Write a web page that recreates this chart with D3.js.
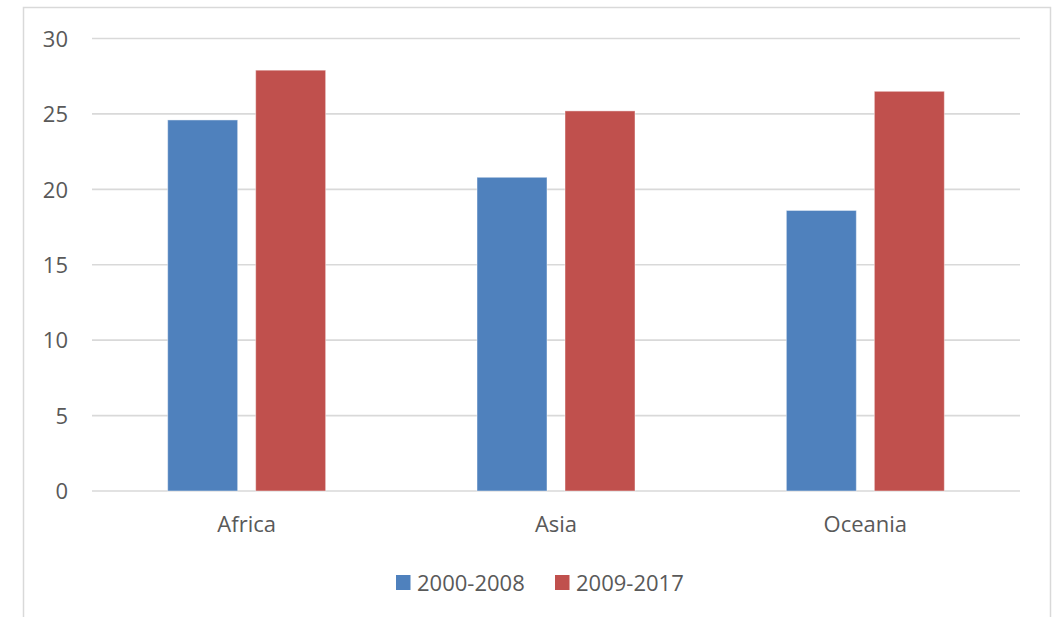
<!DOCTYPE html>
<html>
<head>
<meta charset="utf-8">
<script src="https://cdn.jsdelivr.net/npm/d3@7"></script>
<style>
  html, body { margin: 0; padding: 0; background: #fff; }
  svg { display: block; }
  text { font-family: "Open Sans", "Noto Sans", sans-serif; fill: #595959; }
</style>
</head>
<body>
<svg id="chart" width="1056" height="617"></svg>
<script>
// Chart data
const categories = ["Africa", "Asia", "Oceania"];
const seriesNames = ["2000-2008", "2009-2017"];
const values2000_2008 = [24.6, 20.8, 18.6];
const values2009_2017 = [27.9, 25.2, 26.5];
const yTicks = [0, 5, 10, 15, 20, 25, 30];
const colors = ["#4F81BD", "#C0504D"];

const seriesValues = [values2000_2008, values2009_2017];
const rows = categories.map((c, i) => ({
  category: c,
  values: seriesNames.map((s, j) => ({ series: s, value: seriesValues[j][i], color: colors[j] }))
}));

const svg = d3.select("#chart");
const plot = { left: 92, right: 1020, top: 38.5, bottom: 491 };

// Outer chart frame
svg.append("rect")
  .attr("x", 23.5).attr("y", 7.5)
  .attr("width", 1027).attr("height", 640)
  .attr("fill", "#fff")
  .attr("stroke", "#d9d9d9")
  .attr("stroke-width", 1.5);

const y = d3.scaleLinear().domain([0, 30]).range([plot.bottom, plot.top]);
const x0 = d3.scaleBand().domain(categories).range([plot.left, plot.right]).paddingInner(0).paddingOuter(0);
const x1 = d3.scaleBand().domain(seriesNames).range([0, x0.bandwidth()])
  .paddingInner(18 / 88).paddingOuter(0.86);

// Horizontal gridlines
svg.append("g")
  .selectAll("line")
  .data(yTicks)
  .join("line")
  .attr("x1", plot.left).attr("x2", plot.right)
  .attr("y1", d => y(d)).attr("y2", d => y(d))
  .attr("stroke", "#d9d9d9")
  .attr("stroke-width", 1.6);

// Y axis labels
const yAxis = d3.axisLeft(y).tickValues(yTicks).tickSize(0).tickPadding(0);
const gy = svg.append("g").attr("transform", "translate(68,0)").call(yAxis);
gy.select(".domain").remove();
gy.selectAll("text")
  .attr("font-size", 22)
  .attr("dy", "0.35em")
  .style("font-family", "'Open Sans', sans-serif")
  .attr("fill", "#595959");

// Bars
const groups = svg.append("g")
  .selectAll("g")
  .data(rows)
  .join("g")
  .attr("transform", d => `translate(${x0(d.category)},0)`);

groups.selectAll("rect")
  .data(d => d.values)
  .join("rect")
  .attr("x", d => x1(d.series))
  .attr("width", x1.bandwidth())
  .attr("y", d => y(d.value))
  .attr("height", d => y(0) - y(d.value))
  .attr("fill", d => d.color)
  .attr("stroke", "rgba(255,255,255,0.45)")
  .attr("stroke-width", 1);

// X axis labels
const xAxis = d3.axisBottom(x0).tickSize(0).tickPadding(0);
const gx = svg.append("g").attr("transform", `translate(0,${plot.bottom})`).call(xAxis);
gx.select(".domain").remove();
gx.selectAll("text")
  .attr("font-size", 22)
  .attr("y", 41)
  .attr("dy", "0")
  .style("font-family", "'Open Sans', sans-serif")
  .attr("fill", "#595959");

// Legend
const legendItems = [
  { name: seriesNames[0], color: colors[0], x: 396 },
  { name: seriesNames[1], color: colors[1], x: 555 }
];
const legend = svg.append("g");
const li = legend.selectAll("g").data(legendItems).join("g")
  .attr("transform", d => `translate(${d.x},575)`);
li.append("rect").attr("width", 14.5).attr("height", 15).attr("fill", d => d.color);
li.append("text")
  .attr("x", 21).attr("y", 7.5).attr("dy", "0.38em")
  .attr("font-size", 22)
  .text(d => d.name);
</script>
</body>
</html>
